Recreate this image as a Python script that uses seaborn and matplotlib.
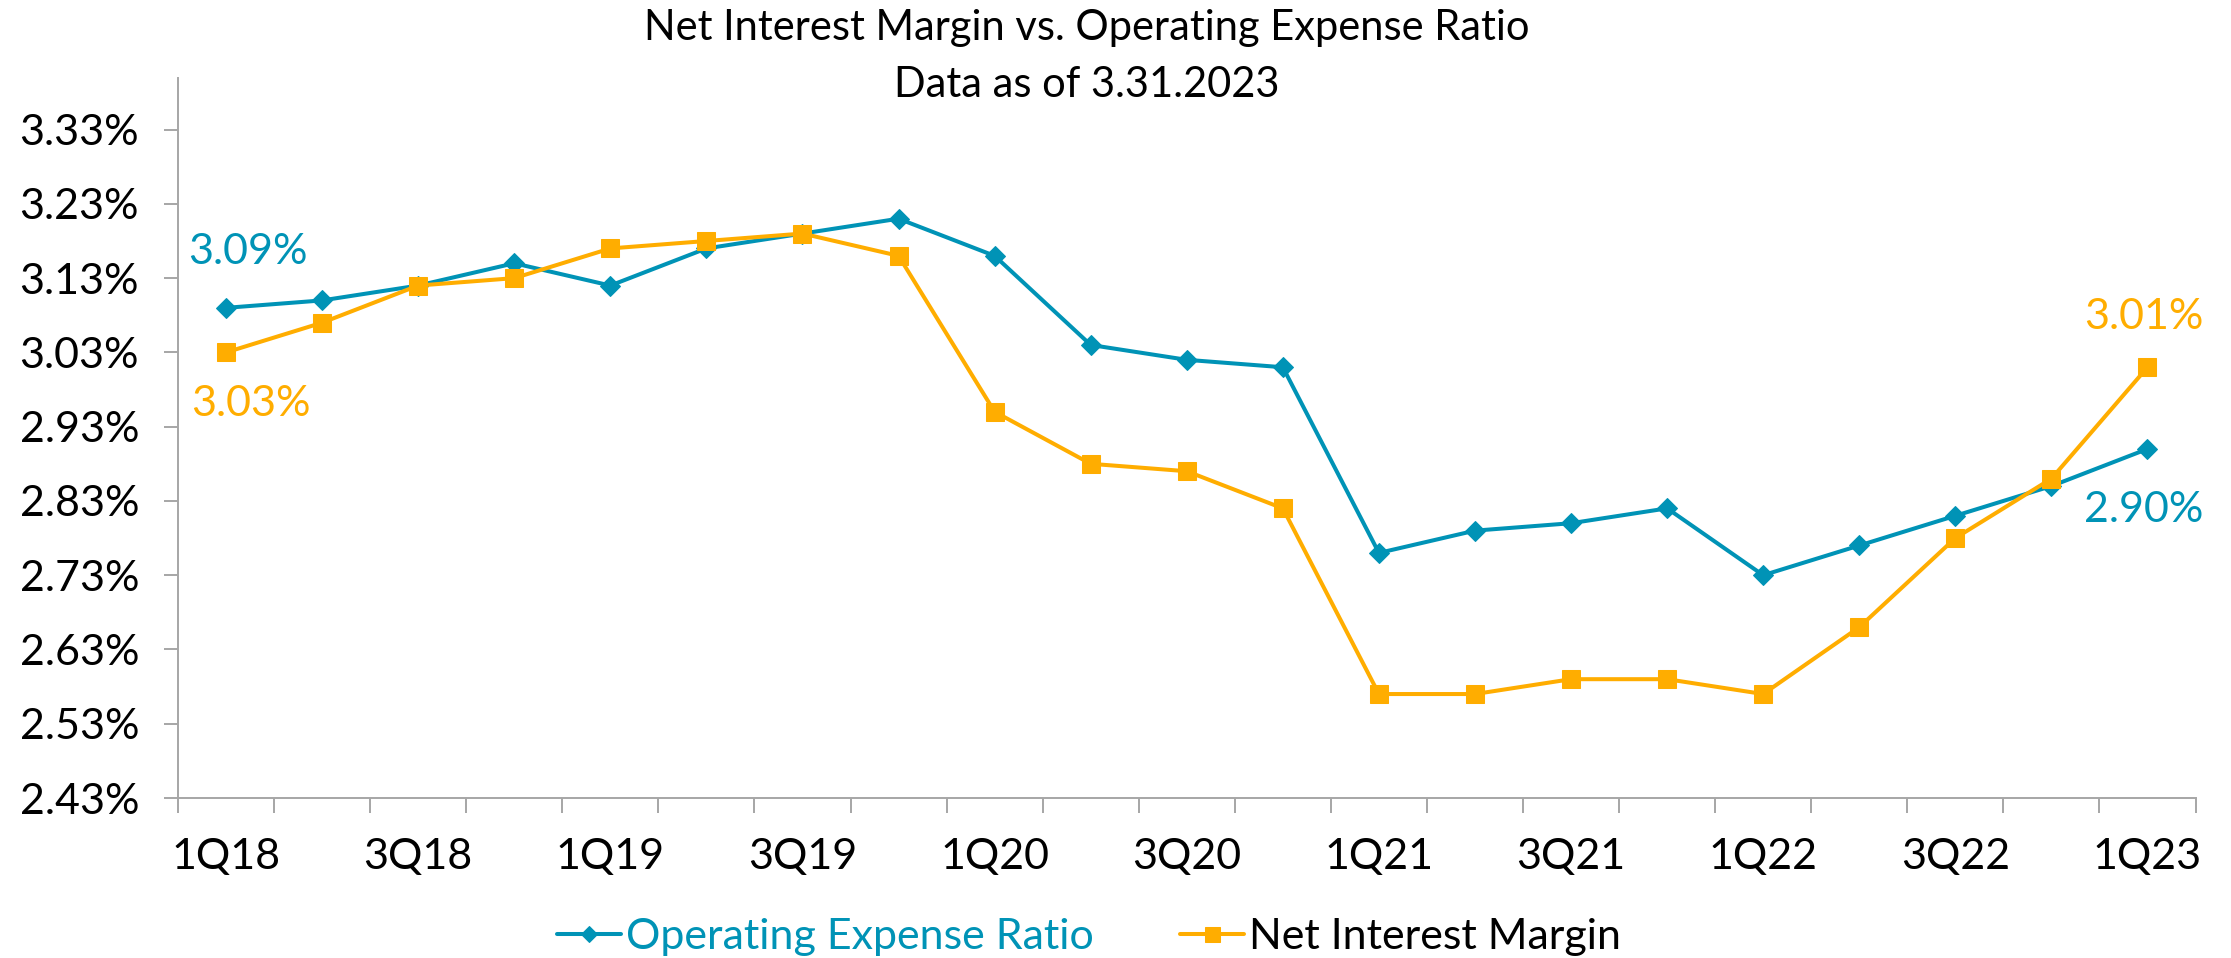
"""
Net Interest Margin vs. Operating Expense Ratio, quarterly 1Q18 - 1Q23.
"""

import numpy as np
import pandas as pd
import matplotlib.pyplot as plt
import seaborn as sns
from matplotlib.ticker import FuncFormatter

quarters = [
    "1Q18", "2Q18", "3Q18", "4Q18",
    "1Q19", "2Q19", "3Q19", "4Q19",
    "1Q20", "2Q20", "3Q20", "4Q20",
    "1Q21", "2Q21", "3Q21", "4Q21",
    "1Q22", "2Q22", "3Q22", "4Q22",
    "1Q23",
]
opex_ratio = [
    3.09, 3.10, 3.12, 3.15,
    3.12, 3.17, 3.19, 3.21,
    3.16, 3.04, 3.02, 3.01,
    2.76, 2.79, 2.80, 2.82,
    2.73, 2.77, 2.81, 2.85,
    2.90,
]
net_interest_margin = [
    3.03, 3.07, 3.12, 3.13,
    3.17, 3.18, 3.19, 3.16,
    2.95, 2.88, 2.87, 2.82,
    2.57, 2.57, 2.59, 2.59,
    2.57, 2.66, 2.78, 2.86,
    3.01,
]
y_ticks = [2.43, 2.53, 2.63, 2.73, 2.83, 2.93, 3.03, 3.13, 3.23, 3.33]

TEAL = "#0093B6"
ORANGE = "#FFAD00"
AXIS_GREY = "#A6A6A6"
FS = 31

sns.set_style("white")
plt.rcParams["font.family"] = ["Lato", "DejaVu Sans"]

df = pd.DataFrame({
    "idx": np.arange(len(quarters)),
    "quarter": quarters,
    "opex": opex_ratio,
    "nim": net_interest_margin,
})

fig = plt.figure(figsize=(22.31, 9.58), dpi=100)
ax = fig.add_axes([0.0798, 0.167, 0.9043, 0.752])

sns.lineplot(x="idx", y="opex", data=df, ax=ax, color=TEAL, linewidth=2.9,
             marker="D", markersize=10.5, markeredgecolor=TEAL,
             label="Operating Expense Ratio")
sns.lineplot(x="idx", y="nim", data=df, ax=ax, color=ORANGE, linewidth=2.9,
             marker="s", markersize=13.5, markeredgecolor=ORANGE,
             label="Net Interest Margin")

# axes limits / ticks
ax.set_xlim(-0.5, len(quarters) - 0.5)
ax.set_ylim(2.43, 3.40)
ax.set_yticks(y_ticks)
ax.yaxis.set_major_formatter(FuncFormatter(lambda v, _: f"{v:.2f}%"))

ax.set_xticks(df["idx"][::2])
ax.set_xticklabels(df["quarter"][::2])
ax.set_xticks(np.arange(-0.5, len(quarters), 1.0), minor=True)
ax.tick_params(axis="x", which="major", length=0, pad=29, labelsize=FS, colors="black")
ax.tick_params(axis="x", which="minor", length=11, width=1.4, color=AXIS_GREY, direction="out")
ax.tick_params(axis="y", which="major", length=10, width=1.4, color=AXIS_GREY,
               direction="out", pad=18, labelsize=FS, labelcolor="black")
ax.xaxis.set_ticks_position("bottom")
ax.yaxis.set_ticks_position("left")

ax.set_xlabel("")
ax.set_ylabel("")
for side in ["top", "right"]:
    ax.spines[side].set_visible(False)
for side in ["left", "bottom"]:
    ax.spines[side].set_color(AXIS_GREY)
    ax.spines[side].set_linewidth(1.4)
ax.grid(False)

# end point labels
ax.annotate(f"{opex_ratio[0]:.2f}%", xy=(0, opex_ratio[0]), xytext=(-27, 40),
            textcoords="offset points", ha="left", va="center",
            color=TEAL, fontsize=FS)
ax.annotate(f"{net_interest_margin[0]:.2f}%", xy=(0, net_interest_margin[0]), xytext=(-25, -37),
            textcoords="offset points", ha="left", va="center",
            color=ORANGE, fontsize=FS)
last = len(quarters) - 1
ax.annotate(f"{net_interest_margin[last]:.2f}%", xy=(last, net_interest_margin[last]), xytext=(40, 36),
            textcoords="offset points", ha="right", va="center",
            color=ORANGE, fontsize=FS, annotation_clip=False)
ax.annotate(f"{opex_ratio[last]:.2f}%", xy=(last, opex_ratio[last]), xytext=(40, -44),
            textcoords="offset points", ha="right", va="center",
            color=TEAL, fontsize=FS, annotation_clip=False)

# title
fig.text(0.487, 0.971, "Net Interest Margin vs. Operating Expense Ratio",
         ha="center", va="center", fontsize=30, color="black")
fig.text(0.487, 0.911, "Data as of 3.31.2023",
         ha="center", va="center", fontsize=30, color="black")

# legend at the bottom
handles, labels = ax.get_legend_handles_labels()
ax.get_legend().remove()
leg = fig.legend(handles, labels, loc="center", bbox_to_anchor=(0.488, 0.022),
                 ncol=2, frameon=False, fontsize=FS, handlelength=1.5,
                 handletextpad=0.1, columnspacing=2.0, markerscale=0.8)
leg.get_texts()[0].set_color(TEAL)
leg.get_texts()[1].set_color("black")

fig.savefig("out.png", dpi=100)
plt.close(fig)
